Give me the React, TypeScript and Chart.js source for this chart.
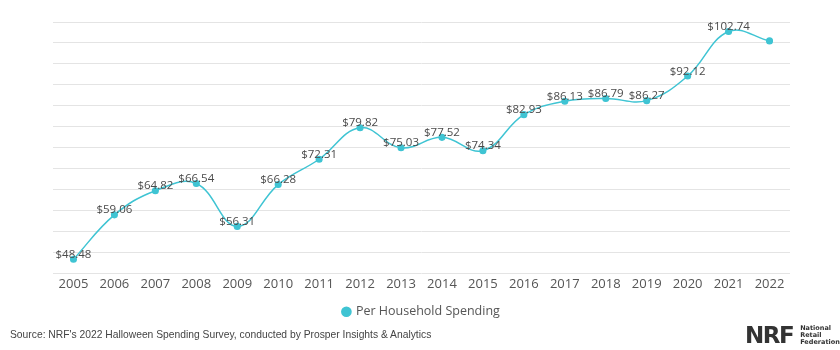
import React, { useEffect, useRef } from "react";
import { Chart, registerables } from "chart.js";

Chart.register(...registerables);

const years = ["2005","2006","2007","2008","2009","2010","2011","2012","2013","2014","2015","2016","2017","2018","2019","2020","2021","2022"];
const spending = [48.48, 59.06, 64.82, 66.54, 56.31, 66.28, 72.31, 79.82, 75.03, 77.52, 74.34, 82.93, 86.13, 86.79, 86.27, 92.12, 102.74, 100.5];
const labelled = [true,true,true,true,true,true,true,true,true,true,true,true,true,true,true,true,true,false];
const seriesName = "Per Household Spending";
const sourceText = "Source: NRF's 2022 Halloween Spending Survey, conducted by Prosper Insights & Analytics";

const LINE = "#3fc4d3";
const FONT = "'Open Sans', sans-serif";

const valueLabels = {
  id: "valueLabels",
  afterDatasetsDraw(chart: any) {
    const ctx = chart.ctx;
    const meta = chart.getDatasetMeta(0);
    ctx.save();
    ctx.font = "11.5px " + FONT;
    ctx.fillStyle = "#4a4a4a";
    ctx.textAlign = "center";
    ctx.textBaseline = "bottom";
    meta.data.forEach((pt: any, i: number) => {
      if (!labelled[i]) return;
      ctx.fillText("$" + spending[i].toFixed(2), pt.x, pt.y + 1);
    });
    ctx.restore();
  },
};

export default function App() {
  const ref = useRef<HTMLCanvasElement>(null);
  useEffect(() => {
    if (!ref.current) return;
    const chart = new Chart(ref.current, {
      type: "line",
      data: {
        labels: years,
        datasets: [
          {
            label: seriesName,
            data: spending,
            borderColor: LINE,
            backgroundColor: LINE,
            pointBackgroundColor: LINE,
            pointBorderColor: LINE,
            borderWidth: 1.5,
            pointRadius: 2.8,
            tension: 0.4,
          },
        ],
      },
      options: {
        animation: false,
        responsive: false,
        maintainAspectRatio: false,
        layout: { padding: { left: 53, right: 50, top: 22, bottom: 4 } },
        plugins: {
          legend: {
            position: "bottom",
            labels: {
              usePointStyle: true,
              pointStyle: "circle",
              boxWidth: 6.5,
              boxHeight: 6.5,
              color: "#555",
              font: { family: FONT, size: 12.5 },
              padding: 10,
            },
          },
          tooltip: { enabled: false },
        },
        scales: {
          x: {
            offset: true,
            grid: { display: false, drawTicks: false },
            border: { display: false },
            ticks: { color: "#555", font: { family: FONT, size: 13 }, padding: 3, maxRotation: 0 },
          },
          y: {
            min: 45,
            max: 105,
            ticks: { stepSize: 5, display: false },
            grid: { color: "#e4e4e4", lineWidth: 1, drawTicks: false },
            border: { display: false },
          },
        },
      },
      plugins: [valueLabels],
    });
    return () => chart.destroy();
  }, []);

  return (
    <div style={{ position: "fixed", left: 0, top: 0, width: 840, height: 350, background: "#fff", overflow: "hidden" }}>
      <canvas ref={ref} width={840} height={332} style={{ position: "absolute", left: 0, top: 0, width: 840, height: 332 }} />
      <div style={{ position: "absolute", left: 10, top: 329, fontFamily: "'Liberation Sans', Arial, sans-serif", fontSize: 10.3, color: "#444", whiteSpace: "nowrap" }}>
        {sourceText}
      </div>
      <div style={{ position: "absolute", left: 745, top: 323, display: "flex", alignItems: "center", whiteSpace: "nowrap" }}>
        <span style={{ fontFamily: "'DejaVu Sans', sans-serif", fontWeight: 900, fontSize: 23, color: "#333", letterSpacing: -1.5, lineHeight: "24px" }}>NRF</span>
        <span style={{ marginLeft: 7, fontFamily: "'DejaVu Sans', sans-serif", fontWeight: 700, fontSize: 6.5, color: "#333", lineHeight: "7px" }}>
          National<br />Retail<br />Federation
        </span>
      </div>
    </div>
  );
}
